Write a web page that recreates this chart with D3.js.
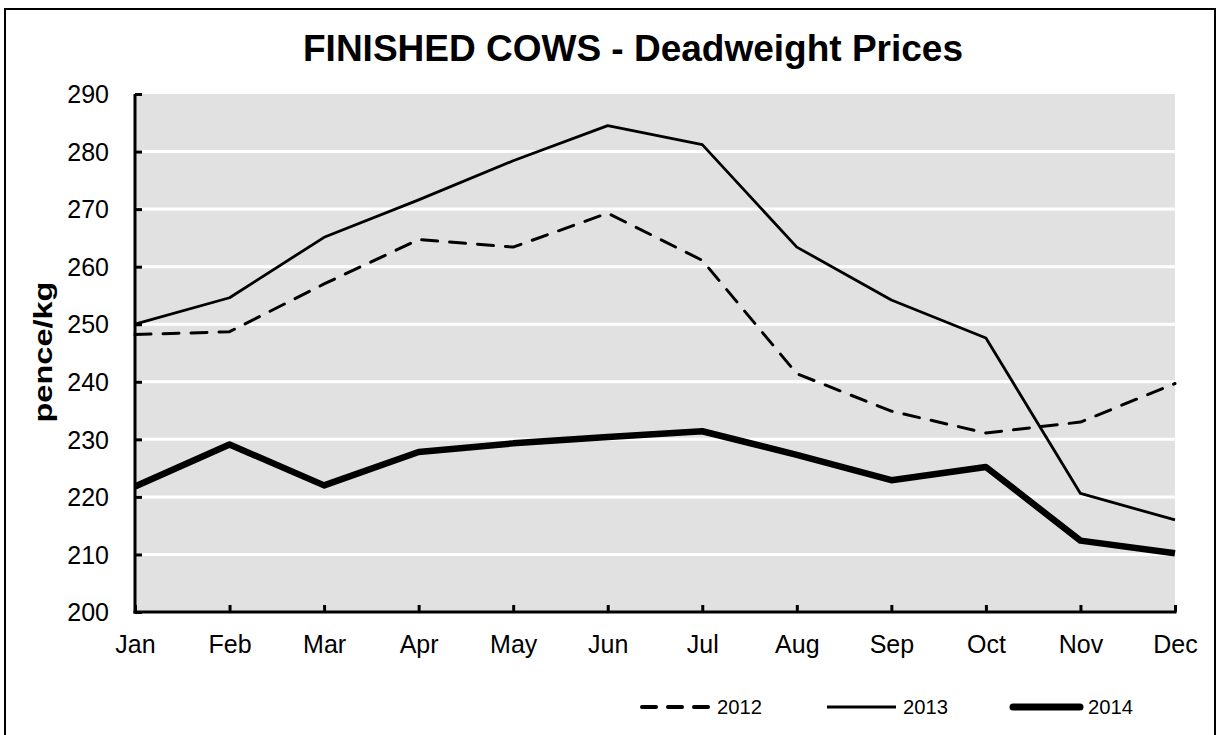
<!DOCTYPE html>
<html>
<head>
<meta charset="utf-8">
<script src="https://cdn.jsdelivr.net/npm/d3@7/dist/d3.min.js"></script>
<style>
  html, body { margin: 0; padding: 0; background: #fff; }
  svg { display: block; }
  text { font-family: "Liberation Sans", Arial, sans-serif; fill: #000; }
</style>
</head>
<body>
<div id="chart"></div>
<script>
const months = ["Jan","Feb","Mar","Apr","May","Jun","Jul","Aug","Sep","Oct","Nov","Dec"];
const yTicks = [200,210,220,230,240,250,260,270,280,290];
const values2012 = [248.2,248.7,257.0,264.7,263.4,269.3,261.1,241.4,234.9,231.1,233.0,239.7];
const values2013 = [250.0,254.6,265.1,271.6,278.4,284.5,281.2,263.4,254.2,247.6,220.6,216.0];
const values2014 = [221.8,229.1,222.0,227.8,229.3,230.4,231.4,227.3,222.9,225.2,212.4,210.2];
const seriesNames = ["2012","2013","2014"];

const W = 1218, H = 735;
const svg = d3.select("#chart").append("svg").attr("width", W).attr("height", H);

// outer border
svg.append("rect").attr("x", 5).attr("y", 9).attr("width", 1210).attr("height", 730)
  .attr("fill", "#fff").attr("stroke", "#000").attr("stroke-width", 2);

const x = d3.scalePoint().domain(months).range([135, 1175]);
const y = d3.scaleLinear().domain([200, 290]).range([612, 94]);

// plot background
svg.append("rect").attr("x", x.range()[0]).attr("y", y(290))
  .attr("width", x.range()[1] - x.range()[0]).attr("height", y(200) - y(290))
  .attr("fill", "#e1e1e1");

// gridlines
svg.append("g").selectAll("line").data(yTicks.filter(t => t > 200 && t < 290)).join("line")
  .attr("x1", x.range()[0]).attr("x2", x.range()[1])
  .attr("y1", d => y(d)).attr("y2", d => y(d))
  .attr("stroke", "#fff").attr("stroke-width", 3);

// title
svg.append("text").attr("x", 633).attr("y", 61).attr("text-anchor", "middle")
  .attr("font-size", 36).attr("font-weight", "bold")
  .attr("textLength", 660).attr("lengthAdjust", "spacingAndGlyphs")
  .text("FINISHED COWS - Deadweight Prices");

// y axis title
svg.append("text").attr("transform", "translate(52,352) rotate(-90)")
  .attr("text-anchor", "middle").attr("font-size", 26).attr("font-weight", "bold")
  .attr("textLength", 141).attr("lengthAdjust", "spacingAndGlyphs")
  .text("pence/kg");

// lines
const line = d3.line().x((d, i) => x(months[i])).y(d => y(d));
const styles = [
  { data: values2012, width: 3, dash: "16,12", cap: "round" },
  { data: values2013, width: 2.8, dash: null, cap: "butt" },
  { data: values2014, width: 6.5, dash: null, cap: "butt" }
];
const lg = svg.append("g");
styles.forEach(s => {
  lg.append("path").attr("d", line(s.data)).attr("fill", "none")
    .attr("stroke", "#000").attr("stroke-width", s.width)
    .attr("stroke-linejoin", "round").attr("stroke-linecap", s.cap)
    .attr("stroke-dasharray", s.dash);
});

// axes
const yAxis = d3.axisLeft(y).tickValues(yTicks).tickSize(-7).tickPadding(26).tickFormat(d3.format("d"));
const gy = svg.append("g").attr("transform", `translate(${x.range()[0]},0)`).call(yAxis);
gy.select(".domain").remove();
gy.selectAll(".tick line").attr("stroke", "#000").attr("stroke-width", 3);
gy.selectAll(".tick text").attr("font-size", 25).attr("font-family", "Liberation Sans, Arial, sans-serif").attr("dy", "0.35em");

const xAxis = d3.axisBottom(x).tickSize(-7).tickPadding(23);
const gx = svg.append("g").attr("transform", `translate(0,${y(200)})`).call(xAxis);
gx.select(".domain").remove();
gx.selectAll(".tick line").attr("stroke", "#000").attr("stroke-width", 3);
gx.selectAll(".tick text").attr("font-size", 25).attr("font-family", "Liberation Sans, Arial, sans-serif").attr("dy", "0.71em");

// axis lines
svg.append("line").attr("x1", x.range()[0]).attr("x2", x.range()[0])
  .attr("y1", y(290)).attr("y2", y(200) + 1.5).attr("stroke", "#000").attr("stroke-width", 3);
svg.append("line").attr("x1", x.range()[0] - 1.5).attr("x2", x.range()[1] + 1.5)
  .attr("y1", y(200)).attr("y2", y(200)).attr("stroke", "#000").attr("stroke-width", 3);

// legend
const legendItems = [
  { name: seriesNames[0], x1: 642, x2: 710, tx: 717, width: 4, dash: "14,12", cap: "round" },
  { name: seriesNames[1], x1: 827, x2: 896, tx: 903, width: 3, dash: null, cap: "butt" },
  { name: seriesNames[2], x1: 1013, x2: 1080, tx: 1088, width: 7, dash: null, cap: "round" }
];
const leg = svg.append("g");
legendItems.forEach(it => {
  leg.append("line").attr("x1", it.x1).attr("x2", it.x2).attr("y1", 707).attr("y2", 707)
    .attr("stroke", "#000").attr("stroke-width", it.width)
    .attr("stroke-linecap", it.cap).attr("stroke-dasharray", it.dash);
  leg.append("text").attr("x", it.tx).attr("y", 714).attr("font-size", 19.5)
    .attr("textLength", 45).attr("lengthAdjust", "spacingAndGlyphs")
    .text(it.name);
});
</script>
</body>
</html>
